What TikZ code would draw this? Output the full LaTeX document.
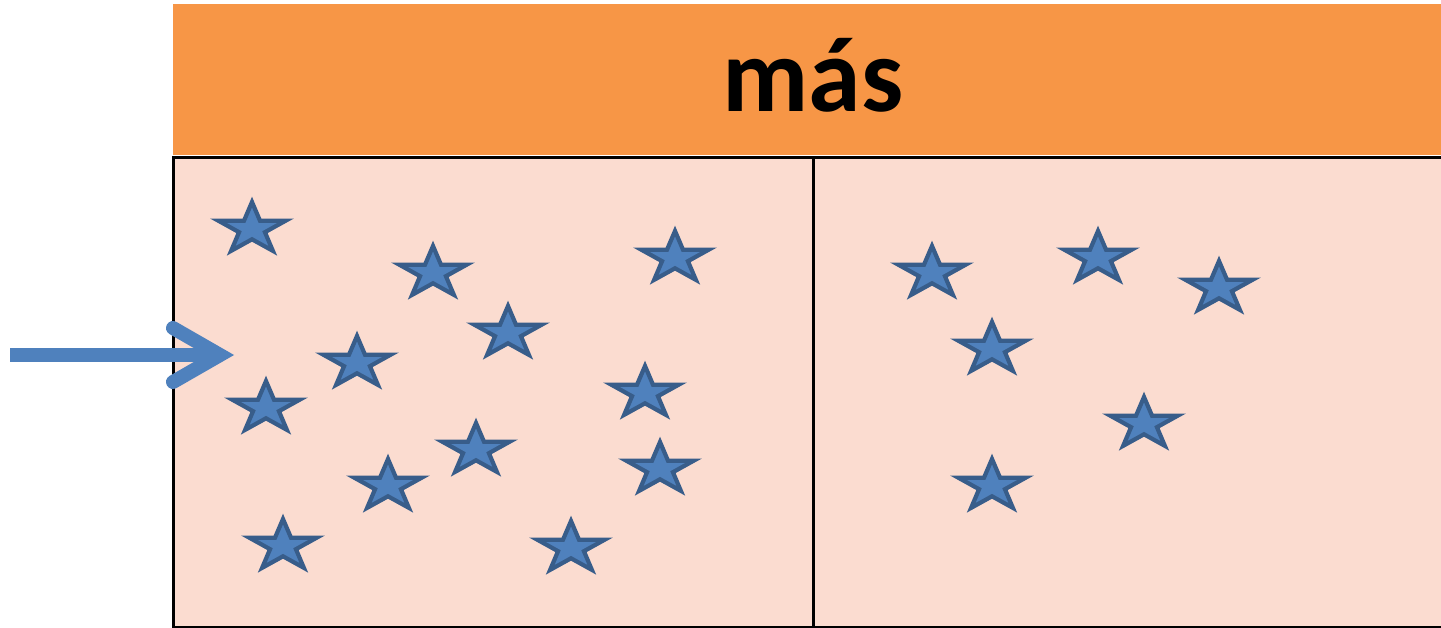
\documentclass[tikz,border=0pt]{standalone}
\usepackage{fontspec}
\newfontfamily\carlito{Carlito}
\definecolor{hdr}{HTML}{F79646}
\definecolor{panel}{HTML}{FBDCD0}
\definecolor{starfill}{HTML}{4F81BD}
\definecolor{starline}{HTML}{385D8A}
\definecolor{arrowcol}{HTML}{4F81BD}
\tikzset{
  header/.style={fill=hdr, draw=none, inner sep=0pt, anchor=north west},
  panelbox/.style={fill=panel, draw=black, line width=2.6pt, inner sep=0pt, anchor=north west},
  starshape/.style={fill=starfill, draw=starline, line width=4.2pt, miter limit=10},
  arrowline/.style={draw=arrowcol, line width=14pt},
  star5/.pic={\path[starshape] (270:35.5 and 27) -- (306:13.6 and 10.3) -- (342:35.5 and 27) -- (18:13.6 and 10.3) -- (54:35.5 and 27) -- (90:13.6 and 10.3) -- (126:35.5 and 27) -- (162:13.6 and 10.3) -- (198:35.5 and 27) -- (234:13.6 and 10.3) -- cycle;}
}
\begin{document}
\begin{tikzpicture}[x=1pt,y=-1pt]
\useasboundingbox (0,0) rectangle (1441,627);
\begin{scope}
\clip (0,0) rectangle (1441,627);
\node[header, minimum width=1270pt, minimum height=151pt] (head) at (173,4) {};
\node[font=\carlito\bfseries\fontsize{106}{110}\selectfont, anchor=base] (title) at (813,111) {más};
\node[panelbox, minimum width=640pt, minimum height=470pt] (left) at (172,156) {};
\node[panelbox, minimum width=640pt, minimum height=470pt] (right) at (812,156) {};
\foreach \cx/\cy in {252/229, 433/273, 675/258, 508/333, 357/363, 266/408, 645/393, 476/450, 388/486, 660/469, 283/546, 571/548,
  932/273, 1098/258, 1219/288, 992/349, 1144/424, 992/486}
  \pic at (\cx,\cy) {star5};
\coordinate (astart) at (10,355);
\coordinate (atip) at (220,355);
\coordinate (aup) at (173,328);
\coordinate (alow) at (173,382);
\draw[arrowline] (astart) -- (atip);
\draw[arrowline, line cap=round, line join=miter] (aup) -- (atip) -- (alow);
\end{scope}
\end{tikzpicture}
\end{document}
